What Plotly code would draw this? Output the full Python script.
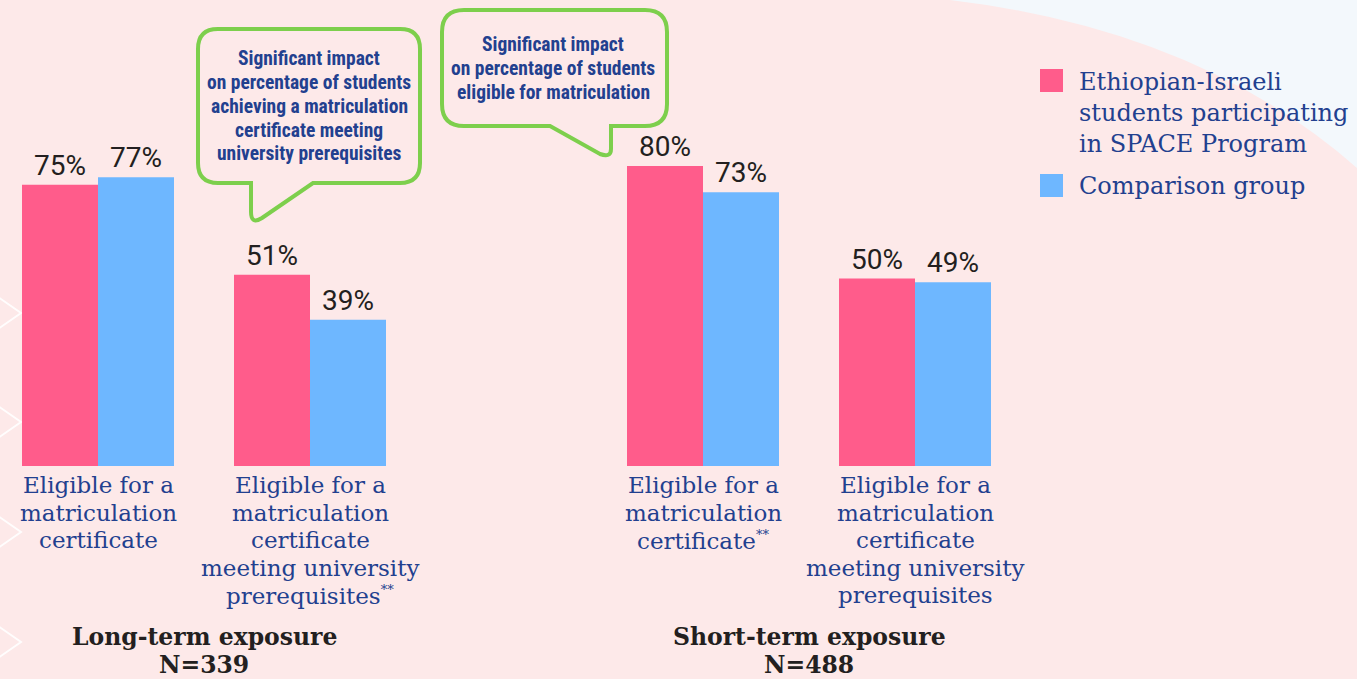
import plotly.graph_objects as go

# ---------------- data ----------------
AST = "<sup><span style='font-size:13px'>**</span></sup>"
long_term_categories = [
    "Eligible for a<br>matriculation<br>certificate",
    "Eligible for a<br>matriculation<br>certificate<br>meeting university<br>prerequisites" + AST,
]
short_term_categories = [
    "Eligible for a<br>matriculation<br>certificate" + AST,
    "Eligible for a<br>matriculation<br>certificate<br>meeting university<br>prerequisites",
]
long_term_participants = [75, 51]
long_term_comparison = [77, 39]
short_term_participants = [80, 50]
short_term_comparison = [73, 49]

series_names = [
    "Ethiopian-Israeli<br>students participating<br>in SPACE Program",
    "Comparison group",
]
group_titles = ["<b>Long-term exposure</b><br><b>N=339</b>", "<b>Short-term exposure</b><br><b>N=488</b>"]
callout_texts = [
    "<b>Significant impact</b><br><b>on percentage of students</b><br><b>achieving a matriculation</b><br><b>certificate meeting</b><br><b>university prerequisites</b>",
    "<b>Significant impact</b><br><b>on percentage of students</b><br><b>eligible for matriculation</b>",
]

# ---------------- styles ----------------
W, H = 1357, 679
PINK = "#FF5C8B"
BLUE = "#6EB7FF"
BG = "#FDE9E9"
BG2 = "#F3F8FC"
NAVY = "#22408F"
DARK = "#231F20"
GREEN = "#7DCF4C"
SLAB = "DejaVu Serif"
VALFONT = "Roboto"
NARROW = "Liberation Sans Narrow, Roboto Condensed, Roboto"


def px(x, y):
    return x / W, 1 - y / H


def path(cmds):
    out = []
    for c in cmds:
        if isinstance(c, str):
            out.append(c)
        else:
            x, y = px(*c)
            out.append(f"{x:.5f},{y:.5f}")
    return " ".join(out)


fig = go.Figure()
for cats, vals, color, name, xa in [
    (long_term_categories, long_term_participants, PINK, series_names[0], "x"),
    (long_term_categories, long_term_comparison, BLUE, series_names[1], "x"),
    (short_term_categories, short_term_participants, PINK, series_names[0], "x2"),
    (short_term_categories, short_term_comparison, BLUE, series_names[1], "x2"),
]:
    fig.add_trace(go.Bar(
        x=cats, y=vals, name=name, marker=dict(color=color, line=dict(width=0)),
        xaxis=xa, yaxis="y", showlegend=False,
        texttemplate="%{y}%", textposition="outside", cliponaxis=False,
        textfont=dict(family=VALFONT, size=28, color=DARK),
    ))

baseline = 466
scale = 3.75
axis_common = dict(showgrid=False, zeroline=False, showline=False, ticks="",
                   showticklabels=False, fixedrange=True, anchor="y")
fig.update_layout(
    width=W, height=H,
    margin=dict(l=0, r=0, t=0, b=0),
    paper_bgcolor=BG, plot_bgcolor="rgba(0,0,0,0)",
    barmode="group", bargap=0.283, bargroupgap=0,
    showlegend=False,
    xaxis=dict(domain=[0, 416 / W], range=[-98 / 212, 1.5], **axis_common),
    xaxis2=dict(domain=[597 / W, 1021 / W], range=[-0.5, 1.5], **axis_common),
    yaxis=dict(domain=[(H - baseline) / H, 1], range=[0, baseline / scale],
               visible=False, fixedrange=True),
)

shapes = []
# top-right light blue region
shapes.append(dict(type="path", xref="paper", yref="paper", layer="below",
                   path=path(["M", (950, 0), "Q", (1200, 30), (1357, 168), "L", (1357, 0), "Z"]),
                   fillcolor=BG2, line=dict(width=0)))
# left chevrons
for cy in [313, 422, 532, 642]:
    shapes.append(dict(type="path", xref="paper", yref="paper", layer="below",
                       path=path(["M", (-2, cy - 16), "L", (21, cy), "L", (-2, cy + 16)]),
                       line=dict(color="rgba(255,255,255,0.9)", width=2)))
# callout bubbles
b1 = ["M", (218, 29), "L", (400, 29), "Q", (420, 29), (420, 49), "L", (420, 163),
      "Q", (420, 183), (400, 183), "L", (313, 183), "L", (262, 218), "Q", (251, 225), (251, 212),
      "L", (251, 183), "L", (218, 183), "Q", (198, 183), (198, 163), "L", (198, 49),
      "Q", (198, 29), (218, 29), "Z"]
b2 = ["M", (464, 10), "L", (645, 10), "Q", (667, 10), (667, 32), "L", (667, 104),
      "Q", (667, 126), (645, 126), "L", (611, 126), "L", (611, 149), "Q", (611, 158), (600, 154),
      "L", (550, 126), "L", (464, 126), "Q", (442, 126), (442, 104), "L", (442, 32),
      "Q", (442, 10), (464, 10), "Z"]
for b in (b1, b2):
    shapes.append(dict(type="path", xref="paper", yref="paper", path=path(b),
                       fillcolor=BG, line=dict(color=GREEN, width=4)))
# legend swatches
for (y0, y1), color in zip([(69, 92), (174, 197)], [PINK, BLUE]):
    x0p, y0p = px(1040, y0)
    x1p, y1p = px(1063, y1)
    shapes.append(dict(type="rect", xref="paper", yref="paper", x0=x0p, x1=x1p,
                       y0=y1p, y1=y0p, fillcolor=color, line=dict(width=0)))
fig.update_layout(shapes=shapes)

ann = []


def lines_at(text, x, first_y, spacing, xref, font, xanchor="center", xval=None):
    for i, line in enumerate(text.split("<br>")):
        yy = 1 - (first_y + i * spacing) / H
        ann.append(dict(x=(x / W) if xval is None else xval, y=yy, xref=xref, yref="paper",
                        text=line, showarrow=False, xanchor=xanchor, yanchor="middle",
                        borderpad=0, font=font))


# category labels (below the bars, tied to the category axes)
catfont = dict(family=SLAB, size=23, color=NAVY)
for xa, cats in [("x", long_term_categories), ("x2", short_term_categories)]:
    for i, c in enumerate(cats):
        lines_at(c, None, 485, 27.5, xa, catfont, xval=i)

# legend labels
lines_at(series_names[0], 1078, 82, 31, "paper", dict(family=SLAB, size=24, color=NAVY), "left")
lines_at(series_names[1], 1078, 186, 31, "paper", dict(family=SLAB, size=24, color=NAVY), "left")

# group titles
for t, cx in zip(group_titles, [204, 809]):
    lines_at(t, cx, 637, 28, "paper", dict(family=SLAB, size=23.5, color=DARK))

# callout texts
for t, (cx, cy) in zip(callout_texts, [(309, 58), (553, 45)]):
    lines_at(t, cx, cy, 24, "paper", dict(family=NARROW, size=19.5, color=NAVY))

fig.update_layout(annotations=ann)

fig.write_html("out.html", config={"displayModeBar": False},
               post_script="document.body.style.margin='0';document.body.style.overflow='hidden';")
